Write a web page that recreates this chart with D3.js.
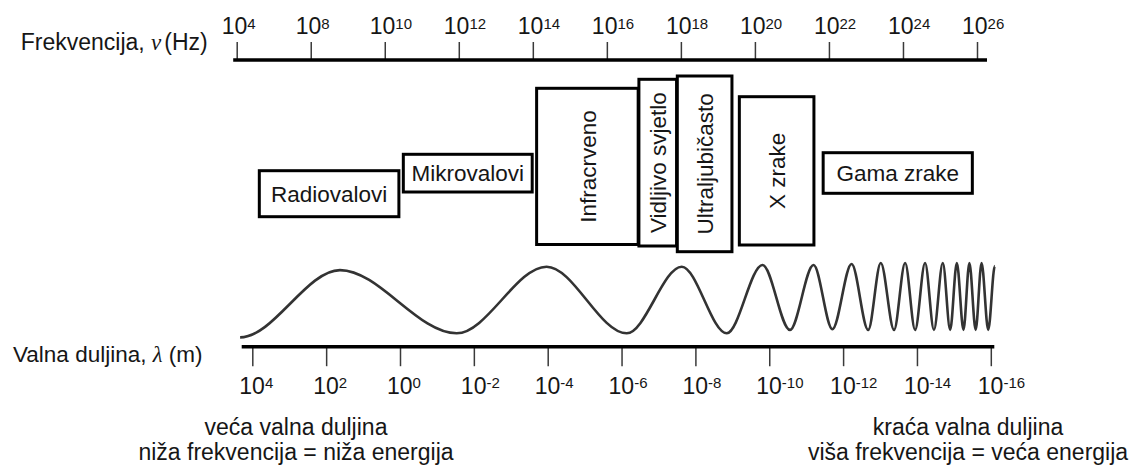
<!DOCTYPE html>
<html>
<head>
<meta charset="utf-8">
<script src="https://cdn.jsdelivr.net/npm/d3@7"></script>
<style>
	body { margin: 0; background: #ffffff; }
	text { font-family: "Liberation Sans", Arial, sans-serif; fill: #161616; }
</style>
</head>
<body>
<div id="spectrumContainer"></div>
<script>

// top axis: frequency, powers of ten (Hz)
let freqExponents = [4, 8, 10, 12, 14, 16, 18, 20, 22, 24, 26];
// bottom axis: wavelength, powers of ten (m)
let waveExponents = [4, 2, 0, -2, -4, -6, -8, -10, -12, -14, -16];

// spectral bands, range (exponent)
let bandNames = ["Radiovalovi", "Mikrovalovi", "Infracrveno", "Vidljivo svjetlo", "Ultraljubičasto", "X zrake", "Gama zrake"];
let bandFrom = [3.81, -0.09, -3.70, -6.47, -7.51, -9.19, -11.46];
let bandTo = [0.03, -3.58, -6.45, -7.49, -8.99, -11.21, -15.50];

// the wave: turning points (wavelength exponent, relative amplitude)
let waveTurnX = [4.33, 1.625, -1.535, -3.97, -6.14, -7.63, -8.85, -9.82, -10.56, -11.2, -11.71, -12.23, -12.68, -13.02,
	-13.38, -13.68, -13.95, -14.22, -14.46, -14.70, -14.90, -15.08, -15.26, -15.42, -15.59, -15.75, -15.93, -16.11];
let waveTurnY = [-1.1, 0.88, -0.98, 0.98, -0.98, 0.98, -0.98, 1.03, -0.88, 1.03, -0.86, 1.06, -0.88, 1.09,
	-0.88, 1.09, -0.88, 1.09, -0.88, 1.09, -0.88, 1.09, -0.88, 1.09, -0.88, 1.09, -0.88, 1.0];

let leftNotes = ["veća valna duljina", "niža frekvencija = niža energija"];
let rightNotes = ["kraća valna duljina", "viša frekvencija = veća energija"];

// box layout (vertical extent, label direction)
let boxLayout = {
	"Radiovalovi": { top: 170.7, bottom: 216.7, vertical: false },
	"Mikrovalovi": { top: 154.3, bottom: 192, vertical: false },
	"Infracrveno": { top: 88.3, bottom: 244.5, vertical: true },
	"Vidljivo svjetlo": { top: 79.3, bottom: 246, vertical: true },
	"Ultraljubičasto": { top: 76, bottom: 251.7, vertical: true },
	"X zrake": { top: 96.7, bottom: 245, vertical: true },
	"Gama zrake": { top: 152.7, bottom: 193.3, vertical: false }
};

// curve with flat tangents at every turning point (smooth half-waves)
function curveTurning(context){
	return {
		areaStart: function(){},
		areaEnd: function(){},
		lineStart: function(){ this._started = false; },
		lineEnd: function(){},
		point: function(x, y){
			if (!this._started) {
				this._started = true;
				context.moveTo(x, y);
			} else {
				let dx = (x - this._x) / 3;
				context.bezierCurveTo(this._x + dx, this._y, x - dx, y, x, y);
			}
			this._x = x;
			this._y = y;
		}
	};
}

function initializeSpectrum(){

	let svg = d3.select("#spectrumContainer")
		.append("svg")
		.attr("width", 1129)
		.attr("height", 468);

	let freqScale = d3.scalePoint()
		.domain(freqExponents)
		.range([236.7, 977]);

	let waveScale = d3.scaleLinear()
		.domain([4, -16])
		.range([252.3, 990.8]);

	let ampScale = d3.scaleLinear()
		.domain([-1, 1])
		.range([334, 266]);

	// frequency axis
	let freqAxis = svg.append("g")
		.attr("transform", "translate(0, 60)")
		.call(d3.axisTop(freqScale).tickSize(18).tickSizeOuter(0).tickFormat(""));
	freqAxis.select(".domain").remove();
	freqAxis.selectAll(".tick line").attr("stroke", "#3a3a3a").attr("stroke-width", 1.5);

	svg.append("line")
		.attr("x1", freqScale.range()[0] - 3.5)
		.attr("x2", freqScale.range()[1] + 10)
		.attr("y1", 60).attr("y2", 60)
		.attr("stroke", "#000").attr("stroke-width", 3.5);

	let freqLabels = svg.append("g").selectAll("text")
		.data(freqExponents)
		.join("text")
		.attr("x", d => freqScale(d) - 15)
		.attr("y", 33.5)
		.attr("font-size", 23);
	freqLabels.append("tspan").text("10");
	freqLabels.append("tspan").attr("dy", -5).attr("font-size", 15).text(d => d);

	// wavelength axis
	let waveAxis = svg.append("g")
		.attr("transform", "translate(0, 346.7)")
		.call(d3.axisBottom(waveScale).tickValues(waveExponents).tickSize(19.5).tickSizeOuter(0).tickFormat(""));
	waveAxis.select(".domain").remove();
	waveAxis.selectAll(".tick line").attr("stroke", "#3a3a3a").attr("stroke-width", 1.5);

	svg.append("line")
		.attr("x1", waveScale.range()[0] - 10.6)
		.attr("x2", waveScale.range()[1] + 3.5)
		.attr("y1", 346.7).attr("y2", 346.7)
		.attr("stroke", "#000").attr("stroke-width", 3.5);

	let waveLabels = svg.append("g").selectAll("text")
		.data(waveExponents)
		.join("text")
		.attr("x", d => waveScale(d) - 13)
		.attr("y", 393.5)
		.attr("font-size", 23);
	waveLabels.append("tspan").text("10");
	waveLabels.append("tspan").attr("dy", -6).attr("font-size", 15).text(d => d);

	// axis titles
	let freqTitle = svg.append("text")
		.attr("x", 20.7).attr("y", 50)
		.attr("font-size", 23);
	freqTitle.append("tspan").text("Frekvencija, ");
	freqTitle.append("tspan").attr("font-family", "'Liberation Serif', serif").attr("font-style", "italic").text("ν");
	freqTitle.append("tspan").attr("dx", 3).text("(Hz)");

	let waveTitle = svg.append("text")
		.attr("x", 13).attr("y", 361.7)
		.attr("font-size", 22.5);
	waveTitle.append("tspan").text("Valna duljina, ");
	waveTitle.append("tspan").attr("font-family", "'Liberation Serif', serif").attr("font-style", "italic").text("λ");
	waveTitle.append("tspan").text(" (m)");

	// wave
	let wavePoints = d3.zip(waveTurnX, waveTurnY);
	let waveLine = d3.line()
		.x(d => waveScale(d[0]))
		.y(d => ampScale(d[1]))
		.curve(curveTurning);

	svg.append("path")
		.datum(wavePoints)
		.attr("d", waveLine)
		.attr("fill", "none")
		.attr("stroke", "#333")
		.attr("stroke-width", 2.6);

	// band boxes
	let bands = bandNames.map((name, i) => ({ name: name, from: bandFrom[i], to: bandTo[i] }));

	let bandGroups = svg.append("g").selectAll("g")
		.data(bands)
		.join("g");

	bandGroups.append("rect")
		.attr("x", d => waveScale(d.from))
		.attr("width", d => waveScale(d.to) - waveScale(d.from))
		.attr("y", d => boxLayout[d.name].top)
		.attr("height", d => boxLayout[d.name].bottom - boxLayout[d.name].top)
		.attr("fill", "#fff")
		.attr("stroke", "#000")
		.attr("stroke-width", 3);

	bandGroups.append("text")
		.attr("transform", d => {
			let cx = (waveScale(d.from) + waveScale(d.to)) / 2;
			let cy = (boxLayout[d.name].top + boxLayout[d.name].bottom) / 2;
			return "translate(" + cx + "," + cy + ")" + (boxLayout[d.name].vertical ? " rotate(-90)" : "");
		})
		.attr("text-anchor", "middle")
		.attr("dy", "0.36em")
		.attr("font-size", 22.5)
		.text(d => d.name);

	// notes under the axis
	svg.append("g").selectAll("text")
		.data(leftNotes)
		.join("text")
		.attr("x", 296)
		.attr("y", (d, i) => 435 + i * 25)
		.attr("text-anchor", "middle")
		.attr("font-size", 23)
		.text(d => d);

	svg.append("g").selectAll("text")
		.data(rightNotes)
		.join("text")
		.attr("x", 968)
		.attr("y", (d, i) => 435 + i * 25)
		.attr("text-anchor", "middle")
		.attr("font-size", 23)
		.text(d => d);
}

initializeSpectrum();

</script>
</body>
</html>
